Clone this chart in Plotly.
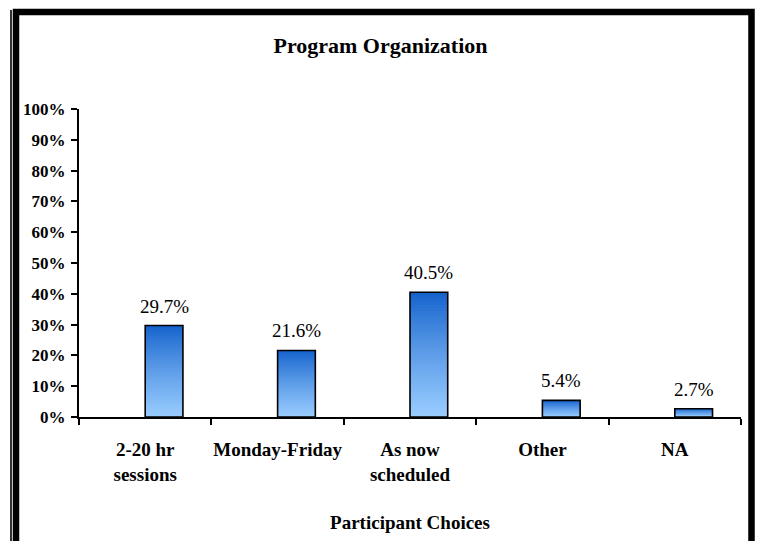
import plotly.graph_objects as go

# ---- data ----
categories = ["2-20 hr<br>sessions", "Monday-Friday", "As now<br>scheduled", "Other", "NA"]
values = [29.7, 21.6, 40.5, 5.4, 2.7]
title_text = "Program Organization"
x_title = "Participant Choices"

# ---- style ----
W, H = 757, 541
L, R, T, B = 79, 741, 109, 417  # plot area in pixels
FONT = "Liberation Serif"
dark = (20, 98, 204)
light = (153, 204, 255)
N_LAYERS = 40
BAR_W = 0.285


def px_x(px):
    return (px - L) / (R - L)


def px_y(py):
    return (B - py) / (B - T)


def mix(t):
    t = t ** 0.85
    c = [round(dark[i] + (light[i] - dark[i]) * t) for i in range(3)]
    return f"rgb({c[0]},{c[1]},{c[2]})"


fig = go.Figure()

# gradient bars: overlaid layers, each shorter and lighter
for k in range(N_LAYERS):
    frac = (N_LAYERS - k) / N_LAYERS
    fig.add_trace(go.Bar(
        x=categories,
        y=[v * frac for v in values],
        width=BAR_W, offset=0,
        marker=dict(color=mix(k / (N_LAYERS - 1)), line=dict(width=0)),
        hoverinfo="skip", showlegend=False,
    ))

# outline
fig.add_trace(go.Bar(
    x=categories, y=values,
    width=BAR_W, offset=0,
    marker=dict(color="rgba(0,0,0,0)", line=dict(color="black", width=1.6)),
    showlegend=False, hoverinfo="skip",
))

# value labels above bars (centred on the bar, which starts at the category centre)
half_bar_px = BAR_W * (R - L) / len(categories) / 2
annotations = [
    dict(x=c, y=v, xref="x", yref="y", text=f"{v:.1f}%", showarrow=False,
         xanchor="center", yanchor="bottom", xshift=half_bar_px, yshift=7,
         font=dict(family=FONT, size=19, color="black"))
    for c, v in zip(categories, values)
]

shapes = [
    # thick frame
    dict(type="rect", xref="paper", yref="paper",
         x0=px_x(16), x1=px_x(751.5), y0=px_y(620), y1=px_y(12),
         line=dict(color="black", width=6.5), fillcolor="rgba(0,0,0,0)", layer="above"),
    # thin inner-left line
    dict(type="line", xref="paper", yref="paper",
         x0=px_x(11), x1=px_x(11), y0=px_y(620), y1=px_y(10),
         line=dict(color="black", width=1.6), layer="above"),
]

fig.update_layout(
    width=W, height=H,
    margin=dict(l=L, r=W - R, t=T, b=H - B, autoexpand=False),
    paper_bgcolor="white", plot_bgcolor="white",
    barmode="overlay",
    title=dict(text=title_text, x=px_x(380.5), xref="paper", xanchor="center",
               y=1 - 45 / H, yref="container", yanchor="middle",
               font=dict(family=FONT, size=22, color="black", weight="bold")),
    shapes=shapes,
    annotations=annotations,
    xaxis=dict(
        type="category", showline=True, linecolor="black", linewidth=2,
        ticks="outside", tickson="boundaries", ticklen=6, tickwidth=2, tickcolor="black",
        tickangle=0, automargin=False, ticklabelstandoff=14,
        tickfont=dict(family=FONT, size=19, color="black", weight="bold"),
        title=dict(text=x_title, standoff=32,
                   font=dict(family=FONT, size=19, color="black", weight="bold")),
        showgrid=False, zeroline=False, fixedrange=True,
    ),
    yaxis=dict(
        range=[0, 100], dtick=10, ticksuffix="%", automargin=False,
        showline=True, linecolor="black", linewidth=2, ticklabelstandoff=2,
        ticks="outside", ticklen=6, tickwidth=2, tickcolor="black",
        tickfont=dict(family=FONT, size=17, color="black", weight="bold"),
        showgrid=False, zeroline=False, fixedrange=True,
    ),
)

fig.write_html("out.html", config={"displayModeBar": False},
               post_script="document.body.style.margin='0';")
